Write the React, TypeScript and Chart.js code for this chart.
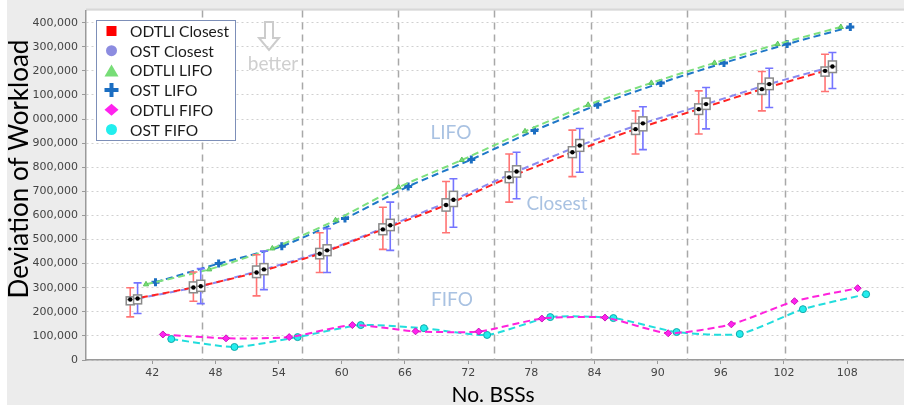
import { useEffect, useRef } from 'react';
import { Chart, registerables } from 'chart.js';

Chart.register(...registerables);

// Number of BSSs per experiment group (x axis ticks)
const bssCounts = [42, 48, 54, 60, 66, 72, 78, 84, 90, 96, 102, 108];

// Y axis ticks and their printed labels
const yTickValues = [
  0, 100000, 200000, 300000, 400000, 500000, 600000, 700000,
  800000, 900000, 1000000, 1100000, 1200000, 1300000, 1400000,
];
const yTickLabels = [
  '0', '100,000', '200,000', '300,000', '400,000', '500,000', '600,000', '700,000',
  '800,000', '900,000', '000,000', '100,000', '200,000', '300,000', '400,000',
];

// Dashed vertical separators on the domain axis
const groupDividers = [46.75, 56.25, 65.3, 74.5, 83.7, 92.8, 102.1];

// Closest policy: mean, quartiles and whisker range
const odtliClosestMean = [251000, 301000, 363000, 441000, 542000, 643000, 758000, 862000, 958000, 1041000, 1124000, 1200000];
const odtliClosestQ1 = [229000, 279000, 342000, 420000, 520000, 618000, 736000, 840000, 936000, 1019000, 1102000, 1178000];
const odtliClosestQ3 = [262000, 324000, 390000, 463000, 565000, 669000, 781000, 885000, 982000, 1063000, 1147000, 1216000];
const odtliClosestMin = [179000, 244000, 266000, 363000, 459000, 528000, 655000, 761000, 855000, 938000, 1034000, 1114000];
const odtliClosestMax = [300000, 365000, 437000, 528000, 634000, 741000, 855000, 954000, 1034000, 1117000, 1197000, 1269000];

const ostClosestMean = [255000, 306000, 376000, 455000, 559000, 665000, 782000, 890000, 982000, 1062000, 1145000, 1218000];
const ostClosestQ1 = [233000, 285000, 354000, 433000, 537000, 637000, 759000, 866000, 951000, 1040000, 1122000, 1193000];
const ostClosestQ3 = [270000, 331000, 400000, 478000, 584000, 700000, 806000, 915000, 1009000, 1087000, 1170000, 1241000];
const ostClosestMin = [193000, 234000, 292000, 363000, 455000, 551000, 669000, 779000, 873000, 959000, 1048000, 1127000];
const ostClosestMax = [320000, 379000, 452000, 545000, 655000, 752000, 862000, 961000, 1051000, 1131000, 1211000, 1276000];

// LIFO policy
const odtliLifo = [314000, 376000, 463000, 580000, 717000, 830000, 949000, 1059000, 1150000, 1233000, 1311000, 1382000];
const ostLifo = [323000, 400000, 472000, 587000, 720000, 832000, 952000, 1059000, 1150000, 1233000, 1311000, 1382000];

// FIFO policy
const odtliFifo = [106000, 90000, 95000, 145000, 119000, 118000, 172000, 176000, 111000, 148000, 244000, 298000];
const ostFifo = [87000, 54000, 95000, 145000, 132000, 104000, 178000, 174000, 116000, 108000, 211000, 273000];

type Marker = 'rect' | 'circle' | 'triangle' | 'cross' | 'rectRot';

interface Series {
  label: string;
  values: number[];
  dodge: number; // horizontal shift within a group, in BSS units
  line: string;
  fill: string;
  edge: string;
  marker: Marker;
  radius: number;
}

const series: Series[] = [
  { label: 'ODTLI Closest', values: odtliClosestMean, dodge: -2.1, line: '#ff2222', fill: '#ff0000', edge: '#ff0000', marker: 'rect', radius: 0 },
  { label: 'OST Closest', values: ostClosestMean, dodge: -1.4, line: '#8a8af0', fill: '#8c8ce0', edge: '#8c8ce0', marker: 'circle', radius: 0 },
  { label: 'ODTLI LIFO', values: odtliLifo, dodge: -0.6, line: '#7ee07e', fill: '#77dd77', edge: '#5cc45c', marker: 'triangle', radius: 3 },
  { label: 'OST LIFO', values: ostLifo, dodge: 0.3, line: '#1f78c8', fill: '#1b6ec2', edge: '#1b6ec2', marker: 'cross', radius: 4 },
  { label: 'ODTLI FIFO', values: odtliFifo, dodge: 1.0, line: '#ff22dd', fill: '#ff22ee', edge: '#cc11bb', marker: 'rectRot', radius: 3.5 },
  { label: 'OST FIFO', values: ostFifo, dodge: 1.8, line: '#22dddd', fill: '#22eeee', edge: '#11aaaa', marker: 'circle', radius: 3.5 },
];

const closestStats = [
  { dodge: -2.1, mean: odtliClosestMean, q1: odtliClosestQ1, q3: odtliClosestQ3, lo: odtliClosestMin, hi: odtliClosestMax, whisker: '#ff7474' },
  { dodge: -1.4, mean: ostClosestMean, q1: ostClosestQ1, q3: ostClosestQ3, lo: ostClosestMin, hi: ostClosestMax, whisker: '#7474ff' },
];

const TEXT_FONT = 'Lato, "Open Sans", sans-serif';

function drawMarker(ctx: CanvasRenderingContext2D, s: Series, cx: number, cy: number) {
  ctx.save();
  ctx.fillStyle = s.fill;
  ctx.strokeStyle = s.fill;
  ctx.beginPath();
  switch (s.marker) {
    case 'rect':
      ctx.fillRect(cx - 5, cy - 5, 10, 10);
      break;
    case 'circle':
      ctx.arc(cx, cy, 5.5, 0, Math.PI * 2);
      ctx.fill();
      break;
    case 'triangle':
      ctx.moveTo(cx, cy - 6);
      ctx.lineTo(cx + 7, cy + 6);
      ctx.lineTo(cx - 7, cy + 6);
      ctx.closePath();
      ctx.fill();
      break;
    case 'cross':
      ctx.lineWidth = 4;
      ctx.moveTo(cx - 7, cy);
      ctx.lineTo(cx + 7, cy);
      ctx.moveTo(cx, cy - 7);
      ctx.lineTo(cx, cy + 7);
      ctx.stroke();
      break;
    case 'rectRot':
      ctx.moveTo(cx, cy - 6);
      ctx.lineTo(cx + 7, cy);
      ctx.lineTo(cx, cy + 6);
      ctx.lineTo(cx - 7, cy);
      ctx.closePath();
      ctx.fill();
      break;
  }
  ctx.restore();
}

const backdropPlugin = {
  id: 'backdrop',
  beforeDraw(chart: Chart) {
    const { ctx, width, height, chartArea } = chart;
    ctx.save();
    ctx.fillStyle = '#ffffff';
    ctx.fillRect(0, 0, width, height);
    ctx.fillStyle = '#ececec';
    ctx.fillRect(7, 0, width - 7, height);
    ctx.fillStyle = '#ffffff';
    ctx.fillRect(chartArea.left, chartArea.top, chartArea.right - chartArea.left, chartArea.bottom - chartArea.top);
    ctx.strokeStyle = '#d8d8d8';
    ctx.lineWidth = 2;
    ctx.beginPath();
    ctx.moveTo(chartArea.left, chartArea.top - 1);
    ctx.lineTo(chartArea.right, chartArea.top - 1);
    ctx.stroke();
    ctx.restore();
  },
  beforeDatasetsDraw(chart: Chart) {
    const { ctx, chartArea } = chart;
    const x = chart.scales.x;
    ctx.save();
    ctx.strokeStyle = '#a8a8a8';
    ctx.lineWidth = 1.5;
    ctx.setLineDash([7, 5]);
    groupDividers.forEach((v) => {
      const px = Math.round(x.getPixelForValue(v)) + 0.5;
      ctx.beginPath();
      ctx.moveTo(px, chartArea.top);
      ctx.lineTo(px, chartArea.bottom);
      ctx.stroke();
    });
    ctx.restore();

    // annotation labels
    ctx.save();
    ctx.fillStyle = '#a9c2e2';
    ctx.font = `19px ${TEXT_FONT}`;
    ctx.textAlign = 'center';
    ctx.textBaseline = 'middle';
    ctx.fillText('LIFO', 451, 133);
    ctx.fillText('Closest', 557, 204);
    ctx.fillText('FIFO', 452, 300);

    ctx.fillStyle = '#cfcfcf';
    ctx.fillText('better', 273, 64);
    ctx.strokeStyle = '#cccccc';
    ctx.lineWidth = 2;
    ctx.beginPath();
    ctx.moveTo(265, 22);
    ctx.lineTo(273, 22);
    ctx.lineTo(273, 38);
    ctx.lineTo(279, 38);
    ctx.lineTo(269, 50);
    ctx.lineTo(259, 38);
    ctx.lineTo(265, 38);
    ctx.closePath();
    ctx.stroke();
    ctx.restore();
  },
};

const boxPlugin = {
  id: 'closestBoxes',
  afterDatasetsDraw(chart: Chart) {
    const { ctx } = chart;
    const x = chart.scales.x;
    const y = chart.scales.y;
    ctx.save();
    closestStats.forEach((s) => {
      s.mean.forEach((m, i) => {
        const px = x.getPixelForValue(bssCounts[i] + s.dodge);
        const yHi = y.getPixelForValue(s.hi[i]);
        const yLo = y.getPixelForValue(s.lo[i]);
        ctx.strokeStyle = s.whisker;
        ctx.lineWidth = 1.6;
        ctx.beginPath();
        ctx.moveTo(px, yHi);
        ctx.lineTo(px, yLo);
        ctx.moveTo(px - 4, yHi);
        ctx.lineTo(px + 4, yHi);
        ctx.moveTo(px - 4, yLo);
        ctx.lineTo(px + 4, yLo);
        ctx.stroke();

        const yQ3 = y.getPixelForValue(s.q3[i]);
        const yQ1 = y.getPixelForValue(s.q1[i]);
        const yM = y.getPixelForValue(m);
        ctx.fillStyle = '#ffffff';
        ctx.fillRect(px - 4, yQ3, 8, yQ1 - yQ3);
        ctx.strokeStyle = '#8a8a8a';
        ctx.lineWidth = 1.5;
        ctx.strokeRect(px - 4, yQ3, 8, yQ1 - yQ3);
        ctx.beginPath();
        ctx.moveTo(px - 4, yM);
        ctx.lineTo(px + 4, yM);
        ctx.stroke();
        ctx.fillStyle = '#000000';
        ctx.beginPath();
        ctx.arc(px, yM, 2.2, 0, Math.PI * 2);
        ctx.fill();
      });
    });
    ctx.restore();
  },
};

const legendPlugin = {
  id: 'insetLegend',
  afterDraw(chart: Chart) {
    const { ctx } = chart;
    ctx.save();
    ctx.fillStyle = '#ffffff';
    ctx.fillRect(96, 20, 140, 121);
    ctx.strokeStyle = '#7d8fb8';
    ctx.lineWidth = 1;
    ctx.strokeRect(96.5, 20.5, 139, 120);
    ctx.font = `15.5px ${TEXT_FONT}`;
    ctx.fillStyle = '#1a1a1a';
    ctx.textAlign = 'left';
    ctx.textBaseline = 'middle';
    series.forEach((s, i) => {
      const cy = 31 + i * 19.7;
      drawMarker(ctx, s, 111.5, cy);
      ctx.fillStyle = '#1a1a1a';
      ctx.fillText(s.label, 130, cy + 1);
    });

    // axis titles
    ctx.fillStyle = '#000000';
    ctx.font = `26px ${TEXT_FONT}`;
    ctx.textAlign = 'center';
    ctx.textBaseline = 'alphabetic';
    ctx.save();
    ctx.translate(28, 169);
    ctx.rotate(-Math.PI / 2);
    ctx.fillText('Deviation of Workload', 0, 0);
    ctx.restore();
    ctx.font = `21px ${TEXT_FONT}`;
    ctx.fillText('No. BSSs', 493, 402);
    ctx.restore();
  },
};

export default function App() {
  const canvasRef = useRef<HTMLCanvasElement | null>(null);

  useEffect(() => {
    if (!canvasRef.current) return;
    const chart = new Chart(canvasRef.current, {
      type: 'line',
      data: {
        datasets: series.map((s) => ({
          label: s.label,
          data: s.values.map((v, i) => ({ x: bssCounts[i] + s.dodge, y: v })),
          borderColor: s.line,
          borderWidth: 2,
          borderDash: [7, 4],
          tension: 0.2,
          fill: false,
          pointStyle: s.marker,
          pointRadius: s.radius,
          pointBackgroundColor: s.fill,
          pointBorderColor: s.marker === 'cross' ? s.fill : s.edge,
          pointBorderWidth: s.marker === 'cross' ? 3 : 1,
        })),
      },
      options: {
        responsive: false,
        animation: false,
        devicePixelRatio: 1,
        layout: { padding: { top: 10, left: 0, right: 0, bottom: 0 }, autoPadding: false },
        plugins: {
          legend: { display: false },
          tooltip: { enabled: false },
          title: { display: false },
        },
        scales: {
          x: {
            type: 'linear',
            min: 35.7,
            max: 113.4,
            afterBuildTicks: (s: any) => {
              s.ticks = bssCounts.map((v) => ({ value: v }));
            },
            afterFit: (s: any) => {
              s.height = 45;
            },
            ticks: {
              autoSkip: false,
              maxRotation: 0,
              padding: 3,
              color: '#444444',
              font: { family: 'DejaVu Sans', size: 11 },
            },
            grid: { drawOnChartArea: false, tickLength: 4, tickColor: '#999999' },
            border: { color: '#9a9a9a', width: 1.5 },
          },
          y: {
            type: 'linear',
            min: 0,
            max: 1450000,
            afterBuildTicks: (s: any) => {
              s.ticks = yTickValues.map((v) => ({ value: v }));
            },
            afterFit: (s: any) => {
              s.width = 86;
            },
            ticks: {
              autoSkip: false,
              padding: 4,
              color: '#444444',
              font: { family: 'DejaVu Sans', size: 11 },
              callback: (_v: any, i: number) => yTickLabels[i],
            },
            grid: { color: '#d0d0d0', lineWidth: 1, tickLength: 4, tickColor: '#999999', tickBorderDash: [] },
            border: { color: '#9a9a9a', width: 1.5, dash: [2, 3] },
          },
        },
      },
      plugins: [backdropPlugin, boxPlugin, legendPlugin],
    } as any);
    return () => chart.destroy();
  }, []);

  return (
    <div style={{ position: 'fixed', left: 0, top: 0, width: 904, height: 405 }}>
      <canvas ref={canvasRef} width={904} height={405} style={{ width: 904, height: 405 }} />
    </div>
  );
}
